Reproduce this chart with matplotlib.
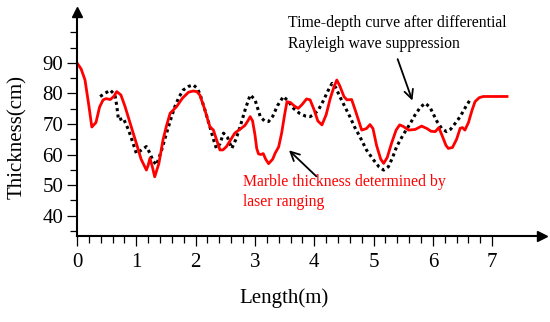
import numpy as np
import matplotlib

matplotlib.use('Agg')
import matplotlib.pyplot as plt

plt.rcParams['font.family'] = ['Liberation Serif', 'DejaVu Serif']

# laser ranging thickness (red)
laser_x = [0.0, 0.07, 0.135, 0.2, 0.25, 0.32, 0.38, 0.44, 0.49, 0.56, 0.62, 0.67, 0.74, 0.81,
           0.9, 1.0, 1.08, 1.17, 1.2, 1.23, 1.27, 1.31, 1.38, 1.45, 1.51, 1.57, 1.68, 1.78,
           1.88, 1.96, 2.02, 2.07, 2.15, 2.24, 2.3, 2.35, 2.41, 2.46, 2.52, 2.59, 2.66, 2.75,
           2.83, 2.88, 2.92, 2.96, 3.0, 3.03, 3.06, 3.1, 3.14, 3.18, 3.23, 3.3, 3.34, 3.4,
           3.45, 3.5, 3.54, 3.6, 3.67, 3.73, 3.8, 3.87, 3.93, 4.0, 4.06, 4.13, 4.2, 4.27,
           4.33, 4.38, 4.43, 4.5, 4.55, 4.63, 4.7, 4.8, 4.88, 4.94, 4.99, 5.05, 5.12, 5.17,
           5.23, 5.3, 5.38, 5.44, 5.5, 5.59, 5.7, 5.81, 5.9, 5.97, 6.04, 6.1, 6.16, 6.22,
           6.26, 6.33, 6.4, 6.46, 6.5, 6.54, 6.6, 6.66, 6.71, 6.78, 6.85, 7.0, 7.1, 7.25]
laser_y = [90.0, 88.0, 84.4, 76.0, 69.0, 70.5, 75.5, 77.9, 78.3, 78.0, 79.0, 80.6, 79.5, 75.7,
           70.0, 63.7, 58.5, 54.9, 56.5, 58.8, 56.0, 52.7, 57.0, 64.8, 69.5, 73.5, 75.7, 78.5,
           80.4, 80.8, 80.6, 79.5, 75.0, 69.1, 68.0, 65.0, 61.5, 61.5, 62.6, 64.8, 67.0, 68.3,
           69.5, 71.0, 72.4, 71.0, 66.5, 62.0, 60.2, 60.0, 60.3, 58.5, 57.0, 58.5, 60.4, 62.5,
           67.0, 73.0, 77.3, 77.0, 75.8, 75.1, 76.5, 78.2, 77.9, 74.5, 71.0, 69.7, 73.0, 78.4,
           82.0, 84.4, 82.5, 79.0, 77.9, 78.0, 74.0, 68.0, 68.5, 69.8, 68.5, 63.0, 58.5, 57.1,
           59.0, 63.5, 68.0, 69.7, 69.2, 68.0, 68.2, 69.3, 68.5, 67.6, 67.5, 68.8, 66.0, 63.0,
           62.0, 62.3, 65.0, 68.6, 68.8, 68.0, 70.5, 74.5, 77.3, 78.6, 79.0, 79.0, 79.0, 79.0]

# time-depth curve after Rayleigh suppression (black dotted)
td_x = [0.39, 0.47, 0.56, 0.64, 0.67, 0.70, 0.78, 0.87, 0.94, 1.0, 1.09, 1.17, 1.23, 1.28,
        1.34, 1.42, 1.51, 1.58, 1.65, 1.72, 1.79, 1.88, 1.96, 2.02, 2.07, 2.15, 2.24, 2.3,
        2.35, 2.41, 2.47, 2.54, 2.61, 2.68, 2.75, 2.84, 2.92, 3.0, 3.09, 3.16, 3.23, 3.3,
        3.38, 3.48, 3.56, 3.65, 3.75, 3.85, 3.93, 4.0, 4.07, 4.15, 4.23, 4.30, 4.36, 4.43,
        4.52, 4.6, 4.68, 4.77, 4.88, 5.0, 5.09, 5.17, 5.25, 5.32, 5.39, 5.5, 5.62, 5.7,
        5.79, 5.87, 5.95, 6.07, 6.15, 6.23, 6.3, 6.38, 6.46, 6.55, 6.63]
td_y = [79.0, 80.0, 81.1, 79.5, 76.0, 71.3, 71.9, 68.0, 64.0, 60.4, 61.5, 62.6, 60.4, 58.0,
        56.6, 61.0, 67.0, 71.5, 75.7, 78.8, 81.1, 82.3, 82.8, 81.8, 80.0, 75.0, 69.1, 65.0,
        62.0, 63.5, 67.0, 65.5, 62.0, 65.0, 69.1, 75.0, 79.5, 78.0, 72.4, 71.0, 70.8, 72.5,
        76.0, 79.0, 77.5, 75.1, 73.5, 72.6, 72.4, 73.2, 74.6, 77.5, 80.8, 83.3, 82.0, 79.0,
        75.5, 72.4, 69.0, 65.8, 61.5, 58.2, 56.0, 54.9, 56.0, 59.0, 62.6, 66.5, 70.2, 73.0,
        75.5, 76.8, 75.5, 70.8, 68.5, 67.5, 68.3, 70.3, 72.4, 75.5, 78.0]

fig = plt.figure(figsize=(5.5, 3.22), dpi=100)
ax = fig.add_axes([0.14, 0.267, 0.8455, 0.696])

ax.plot(td_x, td_y, color='black', linewidth=2.2, linestyle=(0, (1, 1.1)))
ax.plot(laser_x, laser_y, color='red', linewidth=2.0)

ax.set_xlim(0, 7.84)
ax.set_ylim(33.3, 106.7)

for s in ['top', 'right']:
    ax.spines[s].set_visible(False)
for s in ['left', 'bottom']:
    ax.spines[s].set_linewidth(1.5)

ax.plot(1, 0, '>k', markersize=7, transform=ax.transAxes, clip_on=False)
ax.plot(0, 1, '^k', markersize=7, transform=ax.transAxes, clip_on=False)

ax.set_xticks(np.arange(0, 8, 1))
ax.set_xticks(np.arange(0, 7.01, 0.2), minor=True)
ax.set_yticks(np.arange(40, 91, 10))
ax.set_yticks(np.arange(35, 101, 5), minor=True)
ax.tick_params(which='major', direction='out', width=0.9, length=7, labelsize=15)
ax.tick_params(which='minor', direction='out', width=0.9, length=5)
ax.tick_params(axis='x', which='major', pad=5)
ax.tick_params(axis='y', which='major', pad=3)

ax.set_xlabel('Length(m)', fontsize=15)
ax.xaxis.set_label_coords(0.445, -0.235)
ax.set_ylabel('Thickness(cm)', fontsize=15)
ax.yaxis.set_label_coords(-0.107, 0.44)

ax.text(3.56, 99.5, 'Time-depth curve after differential\nRayleigh wave suppression',
        fontsize=11.3, color='black', va='center', ha='left', linespacing=1.4)
ax.text(2.8, 47.7, 'Marble thickness determined by\nlaser ranging',
        fontsize=11.3, color='red', va='center', ha='left', linespacing=1.4)

ax.annotate('', xy=(5.67, 76.8), xytext=(5.39, 92.1),
            arrowprops=dict(arrowstyle='->', lw=1.3, color='black', mutation_scale=16))
ax.annotate('', xy=(3.54, 62.0), xytext=(4.07, 52.2),
            arrowprops=dict(arrowstyle='->', lw=1.3, color='black', mutation_scale=16))

fig.savefig('out.png', dpi=100)
